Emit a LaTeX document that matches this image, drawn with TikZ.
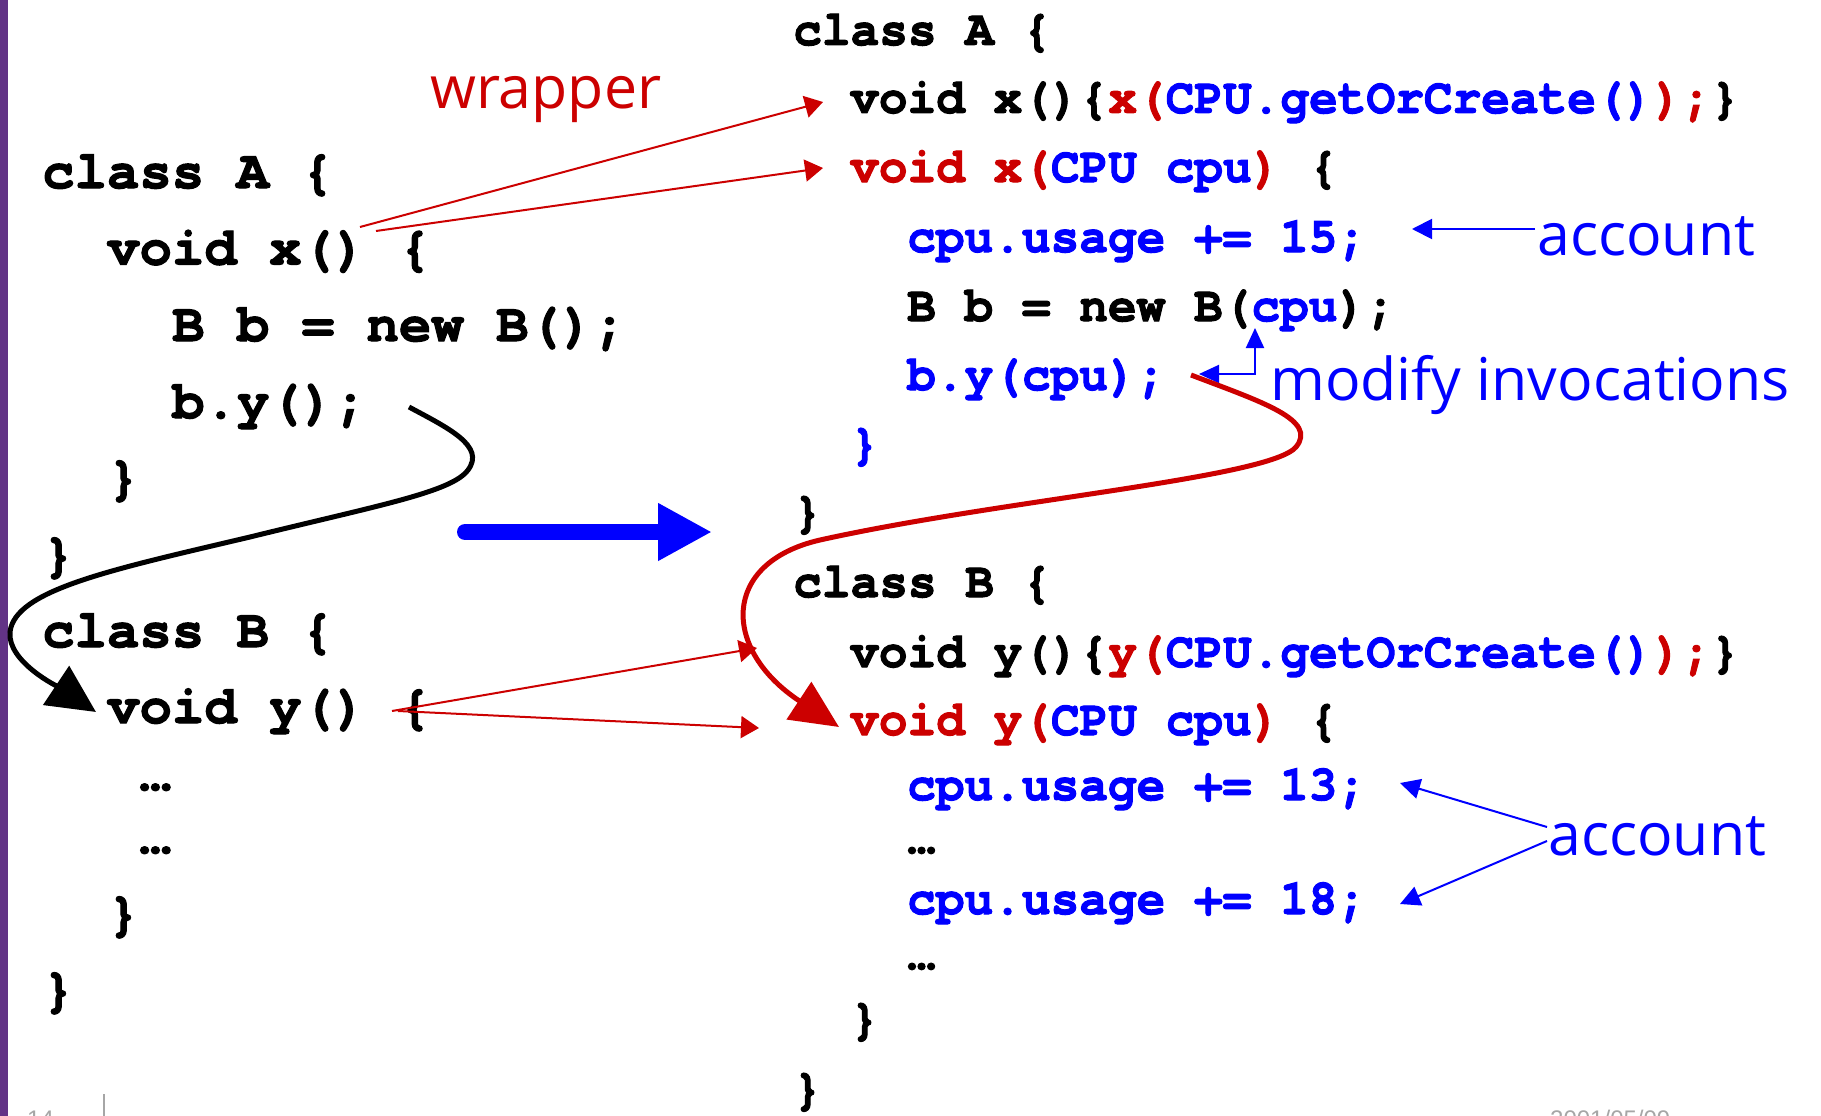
\documentclass[tikz,border=0pt]{standalone}
\usepackage{fontspec}
\usetikzlibrary{arrows.meta}
\newfontfamily\codeLfont{texgyrecursor}[Extension=.otf, UprightFont=*-regular, BoldFont=*-bold, BoldFeatures={FakeBold=2}]
\newfontfamily\codeRfont{texgyrecursor}[Extension=.otf, UprightFont=*-regular, BoldFont=*-bold, FakeStretch=0.96, BoldFeatures={FakeBold=2}]
\newfontfamily\lblfont{Open Sans}
\newfontfamily\footfont{Liberation Sans}
\definecolor{cred}{RGB}{204,0,0}
\definecolor{cblue}{RGB}{0,0,255}
\definecolor{cpurple}{RGB}{98,51,134}
\definecolor{cgray}{RGB}{166,166,166}
\newcommand{\rd}[1]{\textcolor{cred}{#1}}
\newcommand{\bl}[1]{\textcolor{cblue}{#1}}
\begin{document}
\begin{tikzpicture}[x=1pt,y=-1pt,
  codeL/.style={font=\codeLfont\bfseries\fontsize{54}{54}\selectfont, inner sep=0pt, anchor=base west},
  codeR/.style={font=\codeRfont\bfseries\fontsize{49.8}{50}\selectfont, inner sep=0pt, anchor=base west},
  lbl/.style={font=\lblfont\fontsize{59}{59}\selectfont, inner sep=0pt, anchor=base west},
  foot/.style={font=\footfont\fontsize{24}{24}\selectfont, text=cgray, inner sep=0pt, anchor=base west},
  wrap/.style={draw=cred, line width=2pt, -{Triangle[length=18pt,width=22pt]}},
  lblarr/.style={draw=cblue, line width=2pt, -{Triangle[length=20pt,width=20pt]}},
  bigarr/.style={draw=cblue, line width=16pt, line cap=round, -{Triangle[length=54pt,width=54pt]}},
  blackcurve/.style={draw=black, line width=5pt, -{Triangle[length=48pt,width=46pt]}},
  redcurve/.style={draw=cred, line width=5pt, -{Triangle[length=48pt,width=44pt]}}
]
\useasboundingbox (0,0) rectangle (1821,1116);
\clip (0,0) rectangle (1821,1116);
\fill[white] (0,0) rectangle (1821,1116);
\fill[cpurple] (0,0) rectangle (8,1116);

% left code (cell width 32.4)
\node[codeL] (l1) at (42,188) {class A \{};
\node[codeL] (l2) at (107,264.5) {void x() \{};
\node[codeL] (l3) at (172,341) {B b = new B();};
\node[codeL] (l4) at (172,418) {b.y();};
\node[codeL] (l5) at (107,494) {\}};
\node[codeL] (l6) at (42,571) {\}};
\node[codeL] (l7) at (42,647) {class B \{};
\node[codeL] (l8) at (107,723) {void y() \{};
\node[codeL] (l9) at (139,790) {…};
\node[codeL] (l10) at (139,853) {…};
\node[codeL] (l11) at (107,930) {\}};
\node[codeL] (l12) at (42,1006) {\}};

% right code
\node[codeR] (r1) at (793,45) {class A \{};
\node[codeR] (r2) at (850,113) {void x()\{\rd{x(}\bl{CPU.getOrCreate()}\rd{);}\}};
\node[codeR] (r3) at (850,182) {\rd{void x(}\bl{CPU cpu}\rd{)} \{};
\node[codeR] (r4) at (907,252) {\bl{cpu.usage += 15;}};
\node[codeR] (r5) at (907,321) {B b = new B(\bl{cpu});};
\node[codeR] (r6) at (907,390) {\bl{b.y(cpu);}};
\node[codeR] (r7) at (850,459) {\bl{\}}};
\node[codeR] (r8) at (793,527) {\}};
\node[codeR] (r9) at (793,597) {class B \{};
\node[codeR] (r10) at (850,667) {void y()\{\rd{y(}\bl{CPU.getOrCreate()}\rd{);}\}};
\node[codeR] (r11) at (850,735) {\rd{void y(}\bl{CPU cpu}\rd{)} \{};
\node[codeR] (r12) at (907,800) {\bl{cpu.usage += 13;}};
\node[codeR] (r13) at (907,853) {…};
\node[codeR] (r14) at (907,914) {\bl{cpu.usage += 18;}};
\node[codeR] (r15) at (907,969) {…};
\node[codeR] (r16) at (850,1034) {\}};
\node[codeR] (r17) at (793,1104) {\}};

% labels
\node[lbl, text=cred] (wr) at (430,108) {wrapper};
\node[lbl, text=cblue] (acc1) at (1537,255) {account};
\node[lbl, text=cblue] (mod) at (1270,400) {modify invocations};
\node[lbl, text=cblue] (acc2) at (1548,855) {account};

% footer (cut off at the bottom edge, as in the reference)
\node[foot] (pg) at (27,1127) {14};
\coordinate (ft1) at (104,1094);
\coordinate (ft2) at (104,1120);
\draw[cgray, line width=1.5pt] (ft1) -- (ft2);
\node[foot] (dt) at (1550,1127) {2001/05/09};

% wrapper arrows
\coordinate (w1s) at (360,227); \coordinate (w1e) at (823,102);
\coordinate (w2s) at (376,231); \coordinate (w2e) at (823,168);
\coordinate (w3s) at (392,711); \coordinate (w3e) at (757,648);
\coordinate (w4s) at (398,711); \coordinate (w4e) at (759,728);
\draw[wrap] (w1s) -- (w1e);
\draw[wrap] (w2s) -- (w2e);
\draw[wrap] (w3s) -- (w3e);
\draw[wrap] (w4s) -- (w4e);

% account arrows
\coordinate (a1s) at (1535,229); \coordinate (a1e) at (1412,229);
\draw[lblarr] (a1s) -- (a1e);
\coordinate (a2s) at (1547,827); \coordinate (a2e) at (1400,783);
\coordinate (a3s) at (1547,841); \coordinate (a3e) at (1400,904);
\draw[lblarr] (a2s) -- (a2e);
\draw[lblarr] (a3s) -- (a3e);

% modify invocations arrows
\coordinate (mup) at (1255,328);
\coordinate (mc) at (1255,374);
\coordinate (mleft) at (1199,374);
\draw[draw=cblue, line width=2pt, {Triangle[length=20pt,width=18pt]}-{Triangle[length=20pt,width=18pt]}] (mup) -- (mc) -- (mleft);

% big blue arrow
\coordinate (ba1) at (465,532); \coordinate (ba2) at (712,532);
\draw[bigarr] (ba1) -- (ba2);

% black call curve
\coordinate (bc0) at (409,407); \coordinate (bc1) at (96,712);
\draw[blackcurve] (bc0) .. controls (448,428) and (486,446) .. (468,470)
  .. controls (452,492) and (380,505) .. (250,537)
  .. controls (110,570) and (15,590) .. (10,632)
  .. controls (7,662) and (60,688) .. (bc1);

% red call curve
\coordinate (rc0) at (1191,375); \coordinate (rc1) at (839,727);
\draw[redcurve] (rc0) .. controls (1262,402) and (1318,420) .. (1296,447)
  .. controls (1270,478) and (1000,500) .. (820,540)
  .. controls (720,563) and (722,650) .. (rc1);
\end{tikzpicture}
\end{document}
